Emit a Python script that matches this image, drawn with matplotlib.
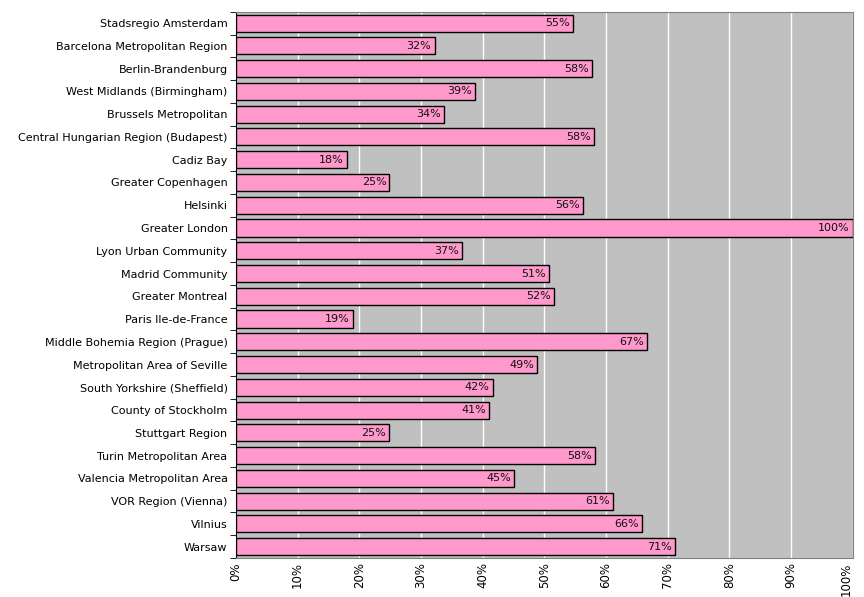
import matplotlib.pyplot as plt
import numpy as np

regions = [
    "Stadsregio Amsterdam", "Barcelona Metropolitan Region", "Berlin-Brandenburg",
    "West Midlands (Birmingham)", "Brussels Metropolitan",
    "Central Hungarian Region (Budapest)", "Cadiz Bay", "Greater Copenhagen",
    "Helsinki", "Greater London", "Lyon Urban Community", "Madrid Community",
    "Greater Montreal", "Paris Ile-de-France", "Middle Bohemia Region (Prague)",
    "Metropolitan Area of Seville", "South Yorkshire (Sheffield)",
    "County of Stockholm", "Stuttgart Region", "Turin Metropolitan Area",
    "Valencia Metropolitan Area", "VOR Region (Vienna)", "Vilnius", "Warsaw",
]
share = [54.6, 32.2, 57.8, 38.7, 33.8, 58.0, 18.0, 24.9, 56.2, 100, 36.7, 50.7,
         51.6, 19.0, 66.6, 48.8, 41.6, 41.0, 24.8, 58.2, 45.1, 61.2, 65.8, 71.2]
labels = ["55%", "32%", "58%", "39%", "34%", "58%", "18%", "25%", "56%", "100%",
          "37%", "51%", "52%", "19%", "67%", "49%", "42%", "41%", "25%", "58%",
          "45%", "61%", "66%", "71%"]
xticks = list(range(0, 101, 10))

fig = plt.figure(figsize=(8.64, 5.97), dpi=100)
ax = fig.add_axes([0.273, 0.0653, 0.714, 0.915])
ax.set_facecolor('#C0C0C0')

y = np.arange(len(regions))
ax.barh(y, share, height=0.75, color='#FF99CC', edgecolor='black', linewidth=1, zorder=3)

for yi, v, lab in zip(y, share, labels):
    ax.text(v - 0.5, yi, lab, ha='right', va='center', fontsize=8,
            color='#111111', zorder=4)

ax.set_xlim(0, 100)
ax.set_ylim(len(regions) - 0.5, -0.5)
ax.set_xticks(xticks)
ax.set_xticklabels(['%d%%' % t for t in xticks], rotation=90, fontsize=8.5)
# keep the last label inside the figure
ax.get_xticklabels()[-1].set_horizontalalignment('right')
ax.set_yticks(y)
ax.set_yticklabels(regions, fontsize=8)
ax.set_yticks(np.arange(-0.5, len(regions), 1), minor=True)
ax.tick_params(axis='y', which='major', length=0, pad=6)
ax.tick_params(axis='y', which='minor', length=4, color='black')
ax.tick_params(axis='x', length=0, pad=3)

ax.grid(axis='x', color='white', linewidth=1, zorder=0)
ax.set_axisbelow(True)

for s in ['top', 'right', 'bottom']:
    ax.spines[s].set_color('#808080')
ax.spines['left'].set_color('black')

fig.savefig('out.png', dpi=100)
